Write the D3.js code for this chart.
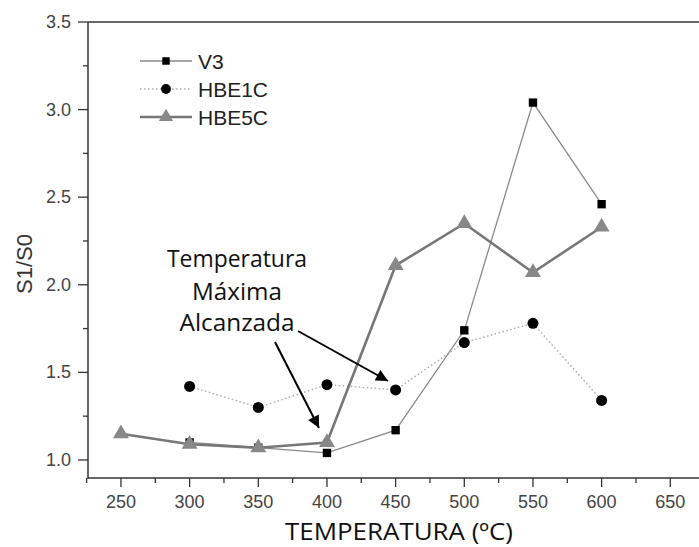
<!DOCTYPE html>
<html>
<head>
<meta charset="utf-8">
<script src="https://cdn.jsdelivr.net/npm/d3@7"></script>
<style>
  body { margin: 0; background: #fff; }
  svg { display: block; }
</style>
</head>
<body>
<script>
var width = 699, height = 547;

var temps = [250, 300, 350, 400, 450, 500, 550, 600];
var v3 = [null, 1.10, 1.07, 1.04, 1.17, 1.74, 3.04, 2.46];
var hbe1c = [null, 1.42, 1.30, 1.43, 1.40, 1.67, 1.78, 1.34];
var hbe5c = [1.15, 1.09, 1.07, 1.10, 2.11, 2.35, 2.07, 2.33];
var xTicks = [250, 300, 350, 400, 450, 500, 550, 600, 650];
var yTicks = [1.0, 1.5, 2.0, 2.5, 3.0, 3.5];
var seriesNames = ["V3", "HBE1C", "HBE5C"];
var noteLines = ["Temperatura", "Máxima", "Alcanzada"];

var mLeft = 88, mTop = 22, mBottom = 478;

var x = d3.scaleLinear().domain([226, 676]).range([mLeft, mLeft + 618]);
var y = d3.scaleLinear().domain([0.897, 3.5]).range([mBottom, mTop]);

var svg = d3.select("body").append("svg")
  .attr("width", width)
  .attr("height", height);

// axes
var xAxis = svg.append("g").attr("transform", "translate(0," + mBottom + ")");
xAxis.append("line").attr("x1", mLeft).attr("x2", width).attr("stroke", "#333").attr("stroke-width", 1.5);
xAxis.selectAll(".major").data(xTicks).enter().append("line")
  .attr("x1", function(d) { return x(d); }).attr("x2", function(d) { return x(d); })
  .attr("y1", 0).attr("y2", 9).attr("stroke", "#333").attr("stroke-width", 1.3);
xAxis.selectAll(".minor").data(d3.range(225, 700, 50)).enter().append("line")
  .attr("x1", function(d) { return x(d); }).attr("x2", function(d) { return x(d); })
  .attr("y1", 0).attr("y2", 5).attr("stroke", "#333").attr("stroke-width", 1.3);
xAxis.selectAll("text").data(xTicks).enter().append("text")
  .attr("x", function(d) { return x(d); })
  .attr("y", 30)
  .attr("text-anchor", "middle")
  .attr("font-family", "Liberation Sans, Arial, sans-serif")
  .attr("font-size", 18)
  .attr("fill", "#444")
  .text(function(d) { return d; });

var yAxis = svg.append("g").attr("transform", "translate(" + mLeft + ",0)");
yAxis.append("line").attr("y1", mTop).attr("y2", mBottom + 1).attr("stroke", "#333").attr("stroke-width", 1.5);
yAxis.selectAll(".major").data(yTicks).enter().append("line")
  .attr("y1", function(d) { return y(d); }).attr("y2", function(d) { return y(d); })
  .attr("x1", 0).attr("x2", -10).attr("stroke", "#333").attr("stroke-width", 1.3);
yAxis.selectAll(".minor").data(d3.range(1.25, 3.5, 0.5)).enter().append("line")
  .attr("y1", function(d) { return y(d); }).attr("y2", function(d) { return y(d); })
  .attr("x1", 0).attr("x2", -5).attr("stroke", "#333").attr("stroke-width", 1.3);
yAxis.selectAll("text").data(yTicks).enter().append("text")
  .attr("x", -17)
  .attr("y", function(d) { return y(d) + 6; })
  .attr("text-anchor", "end")
  .attr("font-family", "Liberation Sans, Arial, sans-serif")
  .attr("font-size", 18)
  .attr("fill", "#444")
  .text(function(d) { return d.toFixed(1); });

// top frame line
svg.append("line").attr("x1", mLeft).attr("x2", width).attr("y1", mTop).attr("y2", mTop)
  .attr("stroke", "#333").attr("stroke-width", 1.5);

// axis titles
svg.append("text")
  .attr("transform", "translate(32,264)rotate(-90)")
  .attr("text-anchor", "middle")
  .attr("font-family", "Liberation Sans, Arial, sans-serif")
  .attr("font-size", 22)
  .attr("fill", "#333")
  .text("S1/S0");

svg.append("text")
  .attr("x", 399).attr("y", 540)
  .attr("text-anchor", "middle")
  .attr("font-family", "Open Sans, sans-serif")
  .attr("font-size", 24)
  .attr("textLength", 228)
  .attr("lengthAdjust", "spacingAndGlyphs")
  .attr("fill", "#111")
  .text("TEMPERATURA (ºC)");

// series
function pts(vals) {
  return temps.map(function(t, i) { return [t, vals[i]]; }).filter(function(p) { return p[1] != null; });
}
var line = d3.line().x(function(d) { return x(d[0]); }).y(function(d) { return y(d[1]); });

var styles = [
  { data: pts(v3), stroke: "#8a8a8a", width: 1.3, dash: null, symbol: d3.symbolSquare, size: 70, fill: "#000" },
  { data: pts(hbe1c), stroke: "#aaa", width: 1.4, dash: "1.5,2.5", symbol: d3.symbolCircle, size: 95, fill: "#000" },
  { data: pts(hbe5c), stroke: "#777", width: 2.6, dash: null, symbol: d3.symbolTriangle, size: 110, fill: "#888" }
];

var drawOrder = [1, 0, 2];
drawOrder.forEach(function(k) {
  var s = styles[k];
  svg.append("path").datum(s.data)
    .attr("d", line)
    .attr("fill", "none")
    .attr("stroke", s.stroke)
    .attr("stroke-width", s.width)
    .attr("stroke-dasharray", s.dash);
});
drawOrder.forEach(function(k) {
  var s = styles[k];
  svg.selectAll(".m" + k).data(s.data).enter().append("path")
    .attr("transform", function(d) { return "translate(" + x(d[0]) + "," + y(d[1]) + ")"; })
    .attr("d", d3.symbol().type(s.symbol).size(s.size))
    .attr("fill", s.fill);
});

// legend
var legend = svg.append("g").attr("transform", "translate(140,61)");
styles.forEach(function(s, i) {
  var g = legend.append("g").attr("transform", "translate(0," + (i * 28) + ")");
  g.append("line").attr("x1", 0).attr("x2", 52)
    .attr("stroke", s.stroke).attr("stroke-width", s.width).attr("stroke-dasharray", s.dash);
  g.append("path").attr("transform", "translate(26,0)")
    .attr("d", d3.symbol().type(s.symbol).size(s.size * 0.8)).attr("fill", s.fill);
  g.append("text").attr("x", 58).attr("y", 8)
    .attr("font-family", "Liberation Sans, Arial, sans-serif")
    .attr("font-size", 21)
    .attr("fill", "#222")
    .text(seriesNames[i]);
});

// annotation
var noteWidths = [140, 90, 115];
var noteBase = [267, 300, 331];
noteLines.forEach(function(t, i) {
  svg.append("text")
    .attr("x", 237).attr("y", noteBase[i])
    .attr("text-anchor", "middle")
    .attr("font-family", "Open Sans, sans-serif")
    .attr("font-size", 24)
    .attr("textLength", noteWidths[i])
    .attr("lengthAdjust", "spacingAndGlyphs")
    .attr("fill", "#111")
    .text(t);
});

svg.append("defs").append("marker")
  .attr("id", "arrow")
  .attr("viewBox", "0 0 10 10")
  .attr("refX", 10).attr("refY", 5)
  .attr("markerWidth", 8).attr("markerHeight", 6)
  .attr("markerUnits", "strokeWidth")
  .attr("orient", "auto")
  .append("path").attr("d", "M0,0L10,5L0,10Z").attr("fill", "#000");

var arrows = [
  [[275, 342], [319, 428]],
  [[298, 331], [388, 381]]
];
arrows.forEach(function(a) {
  svg.append("line")
    .attr("x1", a[0][0]).attr("y1", a[0][1])
    .attr("x2", a[1][0]).attr("y2", a[1][1])
    .attr("stroke", "#000").attr("stroke-width", 2)
    .attr("marker-end", "url(#arrow)");
});
</script>
</body>
</html>
